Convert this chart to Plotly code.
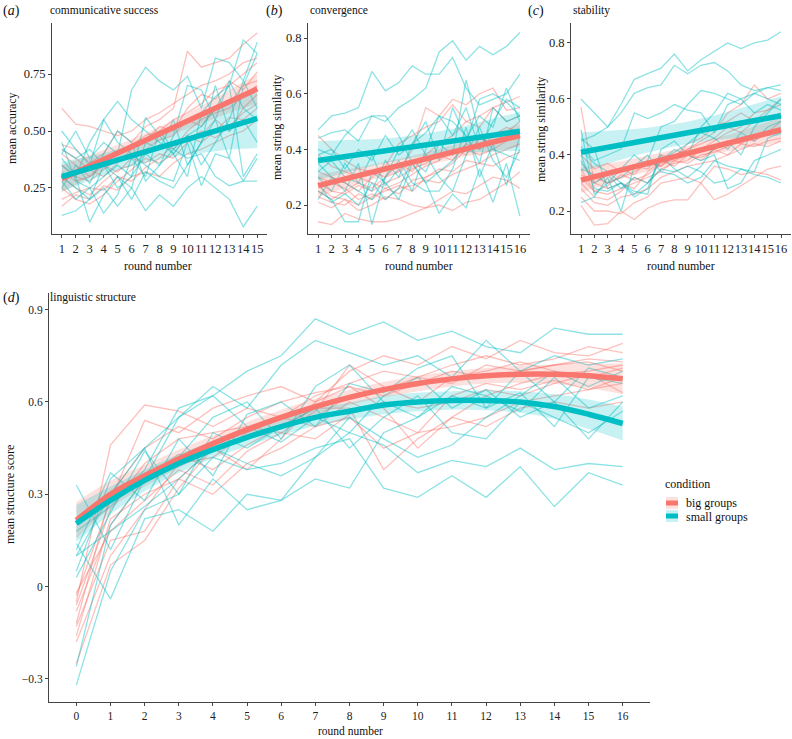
import plotly.graph_objects as go

W, H = 792, 739
FONT = "Liberation Serif, 'Times New Roman', Times, serif"
RED = "248,118,109"
TEAL = "0,191,196"

# ---------------- data ----------------
ROUNDS_A = list(range(1, 16))
ROUNDS_BC = list(range(1, 17))
ROUNDS_D = list(range(0, 17))

# (a) communicative success: mean accuracy per group
A_BIG = [
    [0.60, 0.53, 0.52, 0.50, 0.48, 0.50, 0.55, 0.58, 0.62, 0.66, 0.70, 0.72, 0.75, 0.80, 0.82],
    [0.44, 0.42, 0.36, 0.40, 0.50, 0.45, 0.52, 0.55, 0.60, 0.85, 0.78, 0.80, 0.82, 0.88, 0.93],
    [0.40, 0.35, 0.30, 0.36, 0.41, 0.44, 0.48, 0.50, 0.55, 0.58, 0.62, 0.68, 0.70, 0.75, 0.80],
    [0.35, 0.30, 0.28, 0.33, 0.38, 0.40, 0.42, 0.46, 0.48, 0.55, 0.52, 0.60, 0.62, 0.70, 0.72],
    [0.30, 0.25, 0.22, 0.28, 0.33, 0.35, 0.40, 0.44, 0.42, 0.50, 0.55, 0.58, 0.60, 0.65, 0.70],
    [0.25, 0.20, 0.18, 0.22, 0.28, 0.33, 0.38, 0.36, 0.40, 0.48, 0.45, 0.50, 0.56, 0.55, 0.60],
    [0.20, 0.23, 0.25, 0.24, 0.30, 0.28, 0.34, 0.38, 0.44, 0.46, 0.50, 0.47, 0.52, 0.58, 0.62],
    [0.17, 0.22, 0.20, 0.26, 0.24, 0.30, 0.32, 0.30, 0.36, 0.40, 0.42, 0.45, 0.48, 0.50, 0.55],
    [0.42, 0.38, 0.33, 0.30, 0.36, 0.42, 0.46, 0.52, 0.50, 0.60, 0.66, 0.64, 0.72, 0.68, 0.76],
    [0.32, 0.28, 0.30, 0.35, 0.32, 0.38, 0.36, 0.40, 0.38, 0.45, 0.48, 0.55, 0.50, 0.60, 0.66],
]
A_SMALL = [
    [0.50, 0.42, 0.35, 0.55, 0.63, 0.55, 0.50, 0.45, 0.40, 0.48, 0.52, 0.60, 0.70, 0.90, 0.84],
    [0.40, 0.50, 0.38, 0.45, 0.40, 0.68, 0.78, 0.72, 0.68, 0.74, 0.60, 0.82, 0.80, 0.72, 0.89],
    [0.45, 0.28, 0.25, 0.30, 0.35, 0.30, 0.56, 0.48, 0.40, 0.30, 0.58, 0.65, 0.70, 0.30, 0.40],
    [0.35, 0.30, 0.45, 0.55, 0.45, 0.40, 0.35, 0.30, 0.28, 0.45, 0.26, 0.40, 0.38, 0.28, 0.28],
    [0.30, 0.25, 0.20, 0.35, 0.30, 0.25, 0.45, 0.42, 0.55, 0.35, 0.45, 0.55, 0.38, 0.70, 0.84],
    [0.13, 0.15, 0.20, 0.25, 0.17, 0.25, 0.15, 0.22, 0.17, 0.25, 0.30, 0.25, 0.20, 0.08, 0.17],
    [0.38, 0.30, 0.10, 0.22, 0.30, 0.20, 0.32, 0.28, 0.25, 0.35, 0.45, 0.70, 0.50, 0.55, 0.45],
    [0.28, 0.20, 0.25, 0.14, 0.22, 0.38, 0.30, 0.50, 0.42, 0.48, 0.35, 0.45, 0.55, 0.72, 0.60],
    [0.25, 0.35, 0.27, 0.40, 0.50, 0.45, 0.28, 0.35, 0.42, 0.38, 0.40, 0.30, 0.26, 0.28, 0.38],
    [0.42, 0.38, 0.42, 0.35, 0.25, 0.30, 0.40, 0.35, 0.48, 0.70, 0.68, 0.55, 0.72, 0.60, 0.55],
]
A_BIG_FIT = [0.290, 0.318, 0.346, 0.375, 0.403, 0.431, 0.459, 0.488, 0.516, 0.544, 0.572, 0.601, 0.629, 0.657, 0.685]
A_BIG_CI = [0.060, 0.054, 0.048, 0.042, 0.037, 0.033, 0.031, 0.030, 0.031, 0.034, 0.038, 0.044, 0.050, 0.057, 0.065]
A_SMALL_FIT = [0.300, 0.318, 0.336, 0.355, 0.373, 0.391, 0.409, 0.428, 0.446, 0.464, 0.482, 0.501, 0.519, 0.537, 0.555]
A_SMALL_CI = [0.065, 0.058, 0.052, 0.048, 0.045, 0.045, 0.048, 0.053, 0.060, 0.068, 0.078, 0.090, 0.100, 0.115, 0.130]

# (b) convergence: mean string similarity
B_BIG = [
    [0.45, 0.40, 0.36, 0.33, 0.32, 0.30, 0.35, 0.32, 0.38, 0.42, 0.45, 0.50, 0.52, 0.55, 0.57, 0.59],
    [0.14, 0.13, 0.17, 0.15, 0.14, 0.14, 0.15, 0.17, 0.19, 0.20, 0.18, 0.21, 0.22, 0.25, 0.28, 0.32],
    [0.21, 0.19, 0.22, 0.18, 0.20, 0.23, 0.22, 0.20, 0.19, 0.22, 0.25, 0.24, 0.27, 0.30, 0.29, 0.26],
    [0.25, 0.22, 0.25, 0.28, 0.26, 0.30, 0.32, 0.40, 0.55, 0.52, 0.58, 0.56, 0.60, 0.62, 0.54, 0.55],
    [0.32, 0.30, 0.28, 0.25, 0.30, 0.34, 0.42, 0.45, 0.48, 0.50, 0.56, 0.50, 0.48, 0.55, 0.50, 0.52],
    [0.28, 0.25, 0.24, 0.27, 0.25, 0.28, 0.30, 0.33, 0.35, 0.38, 0.36, 0.42, 0.40, 0.45, 0.48, 0.46],
    [0.38, 0.34, 0.32, 0.30, 0.28, 0.26, 0.28, 0.31, 0.34, 0.36, 0.40, 0.38, 0.44, 0.42, 0.46, 0.50],
    [0.23, 0.21, 0.20, 0.24, 0.22, 0.26, 0.24, 0.29, 0.30, 0.33, 0.32, 0.36, 0.35, 0.38, 0.40, 0.42],
    [0.30, 0.28, 0.26, 0.22, 0.24, 0.22, 0.26, 0.27, 0.29, 0.28, 0.31, 0.33, 0.35, 0.34, 0.37, 0.39],
    [0.27, 0.23, 0.22, 0.20, 0.23, 0.25, 0.27, 0.25, 0.30, 0.32, 0.35, 0.40, 0.38, 0.40, 0.43, 0.45],
]
B_SMALL = [
    [0.44, 0.46, 0.47, 0.43, 0.52, 0.50, 0.55, 0.58, 0.62, 0.75, 0.79, 0.72, 0.77, 0.74, 0.77, 0.82],
    [0.47, 0.52, 0.53, 0.55, 0.68, 0.61, 0.64, 0.70, 0.67, 0.67, 0.73, 0.62, 0.56, 0.58, 0.60, 0.67],
    [0.40, 0.38, 0.45, 0.50, 0.52, 0.52, 0.45, 0.35, 0.28, 0.32, 0.36, 0.42, 0.58, 0.60, 0.57, 0.52],
    [0.35, 0.30, 0.28, 0.25, 0.22, 0.30, 0.40, 0.47, 0.38, 0.30, 0.25, 0.38, 0.48, 0.36, 0.30, 0.40],
    [0.30, 0.25, 0.35, 0.28, 0.38, 0.27, 0.33, 0.25, 0.40, 0.52, 0.45, 0.55, 0.40, 0.50, 0.58, 0.55],
    [0.25, 0.22, 0.14, 0.14, 0.32, 0.28, 0.22, 0.35, 0.28, 0.17, 0.24, 0.19, 0.33, 0.21, 0.35, 0.16],
    [0.22, 0.30, 0.25, 0.35, 0.13, 0.30, 0.36, 0.28, 0.25, 0.25, 0.33, 0.48, 0.30, 0.42, 0.27, 0.45],
    [0.32, 0.36, 0.30, 0.28, 0.25, 0.36, 0.30, 0.42, 0.50, 0.36, 0.55, 0.44, 0.52, 0.48, 0.62, 0.50],
    [0.28, 0.21, 0.24, 0.20, 0.28, 0.22, 0.26, 0.36, 0.32, 0.42, 0.38, 0.65, 0.45, 0.40, 0.38, 0.36],
    [0.38, 0.40, 0.33, 0.40, 0.36, 0.45, 0.38, 0.42, 0.46, 0.52, 0.50, 0.45, 0.35, 0.55, 0.50, 0.52],
]
B_BIG_FIT = [0.270, 0.282, 0.294, 0.306, 0.318, 0.330, 0.342, 0.354, 0.366, 0.378, 0.390, 0.402, 0.414, 0.426, 0.438, 0.450]
B_BIG_CI = [0.040, 0.036, 0.033, 0.030, 0.027, 0.025, 0.024, 0.023, 0.023, 0.024, 0.025, 0.027, 0.030, 0.033, 0.036, 0.040]
B_SMALL_FIT = [0.360, 0.367, 0.374, 0.381, 0.388, 0.395, 0.402, 0.409, 0.416, 0.423, 0.430, 0.437, 0.444, 0.451, 0.458, 0.465]
B_SMALL_CI = [0.070, 0.064, 0.058, 0.053, 0.048, 0.044, 0.041, 0.040, 0.040, 0.041, 0.044, 0.048, 0.053, 0.058, 0.064, 0.070]

# (c) stability: mean string similarity
C_BIG = [
    [0.57, 0.30, 0.33, 0.35, 0.33, 0.38, 0.36, 0.40, 0.42, 0.45, 0.48, 0.55, 0.58, 0.65, 0.60, 0.62],
    [0.22, 0.15, 0.155, 0.20, 0.17, 0.21, 0.23, 0.24, 0.24, 0.30, 0.24, 0.26, 0.29, 0.32, 0.35, 0.36],
    [0.25, 0.20, 0.20, 0.19, 0.23, 0.25, 0.30, 0.31, 0.32, 0.30, 0.36, 0.35, 0.33, 0.34, 0.33, 0.31],
    [0.35, 0.27, 0.26, 0.28, 0.30, 0.32, 0.34, 0.38, 0.40, 0.39, 0.42, 0.45, 0.44, 0.47, 0.48, 0.49],
    [0.30, 0.25, 0.24, 0.27, 0.32, 0.30, 0.35, 0.37, 0.38, 0.42, 0.45, 0.48, 0.50, 0.55, 0.56, 0.58],
    [0.33, 0.30, 0.28, 0.30, 0.28, 0.34, 0.38, 0.36, 0.40, 0.38, 0.42, 0.40, 0.44, 0.43, 0.45, 0.46],
    [0.40, 0.35, 0.37, 0.34, 0.36, 0.35, 0.40, 0.39, 0.44, 0.46, 0.50, 0.52, 0.55, 0.52, 0.56, 0.60],
    [0.28, 0.23, 0.22, 0.25, 0.26, 0.28, 0.32, 0.34, 0.36, 0.37, 0.38, 0.40, 0.42, 0.44, 0.43, 0.45],
    [0.37, 0.32, 0.30, 0.32, 0.34, 0.37, 0.36, 0.40, 0.42, 0.44, 0.46, 0.50, 0.48, 0.52, 0.53, 0.55],
    [0.32, 0.27, 0.29, 0.33, 0.31, 0.33, 0.37, 0.38, 0.37, 0.40, 0.41, 0.43, 0.46, 0.45, 0.48, 0.52],
]
C_SMALL = [
    [0.60, 0.55, 0.50, 0.58, 0.67, 0.69, 0.71, 0.76, 0.70, 0.74, 0.77, 0.80, 0.78, 0.80, 0.81, 0.84],
    [0.45, 0.47, 0.50, 0.55, 0.62, 0.64, 0.65, 0.72, 0.69, 0.72, 0.73, 0.70, 0.65, 0.63, 0.64, 0.65],
    [0.49, 0.26, 0.30, 0.32, 0.36, 0.38, 0.50, 0.52, 0.58, 0.63, 0.62, 0.60, 0.58, 0.62, 0.64, 0.63],
    [0.43, 0.38, 0.40, 0.42, 0.55, 0.53, 0.55, 0.58, 0.56, 0.55, 0.48, 0.58, 0.60, 0.62, 0.60, 0.58],
    [0.46, 0.42, 0.28, 0.30, 0.27, 0.26, 0.42, 0.45, 0.40, 0.50, 0.55, 0.62, 0.60, 0.55, 0.58, 0.56],
    [0.38, 0.30, 0.33, 0.28, 0.32, 0.30, 0.35, 0.34, 0.36, 0.34, 0.30, 0.31, 0.35, 0.33, 0.32, 0.30],
    [0.23, 0.25, 0.32, 0.20, 0.36, 0.40, 0.34, 0.33, 0.30, 0.32, 0.38, 0.36, 0.35, 0.34, 0.46, 0.48],
    [0.40, 0.28, 0.27, 0.30, 0.26, 0.30, 0.38, 0.41, 0.44, 0.48, 0.46, 0.42, 0.48, 0.45, 0.50, 0.52],
    [0.35, 0.33, 0.30, 0.35, 0.40, 0.36, 0.38, 0.42, 0.40, 0.38, 0.40, 0.28, 0.30, 0.38, 0.40, 0.42],
    [0.42, 0.37, 0.34, 0.30, 0.25, 0.28, 0.40, 0.35, 0.32, 0.36, 0.43, 0.45, 0.40, 0.50, 0.55, 0.60],
]
C_BIG_FIT = [0.310, 0.322, 0.334, 0.346, 0.358, 0.370, 0.382, 0.394, 0.406, 0.418, 0.430, 0.442, 0.454, 0.466, 0.478, 0.490]
C_BIG_CI = [0.045, 0.040, 0.036, 0.032, 0.029, 0.027, 0.026, 0.025, 0.025, 0.026, 0.027, 0.029, 0.032, 0.036, 0.040, 0.045]
C_SMALL_FIT = [0.410, 0.419, 0.427, 0.436, 0.445, 0.453, 0.462, 0.471, 0.479, 0.488, 0.497, 0.505, 0.514, 0.523, 0.531, 0.540]
C_SMALL_CI = [0.070, 0.064, 0.058, 0.053, 0.048, 0.044, 0.041, 0.040, 0.040, 0.041, 0.044, 0.048, 0.053, 0.058, 0.064, 0.070]

# (d) linguistic structure: mean structure score
D_BIG = [
    [-0.05, 0.46, 0.59, 0.57, 0.52, 0.58, 0.55, 0.62, 0.66, 0.70, 0.68, 0.72, 0.75, 0.72, 0.74, 0.78, 0.76],
    [-0.16, 0.22, 0.30, 0.35, 0.45, 0.48, 0.52, 0.55, 0.62, 0.64, 0.68, 0.66, 0.72, 0.70, 0.72, 0.74, 0.73],
    [-0.06, 0.25, 0.40, 0.48, 0.50, 0.52, 0.50, 0.57, 0.72, 0.65, 0.60, 0.68, 0.70, 0.73, 0.70, 0.68, 0.71],
    [-0.25, 0.07, 0.15, 0.32, 0.45, 0.38, 0.48, 0.60, 0.65, 0.58, 0.45, 0.55, 0.62, 0.66, 0.69, 0.70, 0.72],
    [-0.13, 0.15, 0.18, 0.35, 0.30, 0.40, 0.45, 0.52, 0.55, 0.45, 0.50, 0.52, 0.55, 0.60, 0.62, 0.64, 0.66],
    [-0.03, 0.28, 0.54, 0.50, 0.58, 0.62, 0.65, 0.60, 0.70, 0.75, 0.72, 0.78, 0.74, 0.80, 0.76, 0.75, 0.79],
    [-0.18, 0.10, 0.25, 0.40, 0.42, 0.50, 0.55, 0.52, 0.60, 0.55, 0.50, 0.62, 0.66, 0.64, 0.67, 0.64, 0.68],
    [-0.08, 0.20, 0.35, 0.43, 0.38, 0.46, 0.52, 0.58, 0.58, 0.38, 0.48, 0.55, 0.52, 0.58, 0.60, 0.58, 0.60],
    [-0.12, 0.30, 0.45, 0.52, 0.48, 0.55, 0.60, 0.63, 0.65, 0.62, 0.66, 0.70, 0.68, 0.70, 0.72, 0.73, 0.70],
    [-0.02, 0.18, 0.28, 0.38, 0.33, 0.44, 0.50, 0.48, 0.56, 0.60, 0.58, 0.60, 0.64, 0.62, 0.66, 0.69, 0.63],
]
D_SMALL = [
    [0.10, 0.30, 0.45, 0.55, 0.62, 0.70, 0.75, 0.87, 0.82, 0.86, 0.80, 0.83, 0.78, 0.76, 0.84, 0.82, 0.82],
    [0.33, 0.12, 0.35, 0.55, 0.65, 0.58, 0.72, 0.80, 0.76, 0.72, 0.75, 0.68, 0.80, 0.70, 0.75, 0.72, 0.74],
    [-0.32, 0.05, 0.25, 0.30, 0.42, 0.38, 0.40, 0.45, 0.48, 0.32, 0.29, 0.36, 0.29, 0.39, 0.26, 0.37, 0.33],
    [0.05, 0.35, 0.45, 0.20, 0.35, 0.25, 0.28, 0.42, 0.50, 0.46, 0.37, 0.41, 0.39, 0.45, 0.38, 0.40, 0.39],
    [0.14, -0.04, 0.22, 0.25, 0.18, 0.30, 0.28, 0.35, 0.32, 0.50, 0.55, 0.62, 0.58, 0.70, 0.60, 0.48, 0.60],
    [0.12, 0.37, 0.28, 0.48, 0.36, 0.56, 0.60, 0.52, 0.66, 0.63, 0.71, 0.75, 0.58, 0.63, 0.52, 0.68, 0.66],
    [-0.26, 0.20, 0.35, 0.42, 0.55, 0.60, 0.48, 0.65, 0.72, 0.60, 0.55, 0.65, 0.62, 0.57, 0.68, 0.58, 0.62],
    [0.03, 0.24, 0.44, 0.30, 0.50, 0.45, 0.52, 0.58, 0.45, 0.55, 0.62, 0.50, 0.48, 0.60, 0.55, 0.50, 0.57],
    [0.10, 0.18, 0.26, 0.35, 0.45, 0.40, 0.36, 0.42, 0.55, 0.48, 0.42, 0.46, 0.55, 0.62, 0.70, 0.65, 0.70],
    [0.18, 0.26, 0.38, 0.58, 0.62, 0.52, 0.47, 0.55, 0.50, 0.62, 0.68, 0.58, 0.64, 0.55, 0.60, 0.71, 0.68],
]
D_BIG_FIT = [0.215, 0.300, 0.360, 0.415, 0.465, 0.510, 0.550, 0.585, 0.615, 0.640, 0.660, 0.675, 0.685, 0.690, 0.690, 0.685, 0.675]
D_BIG_CI = [0.060, 0.045, 0.035, 0.030, 0.025, 0.025, 0.025, 0.025, 0.025, 0.025, 0.025, 0.025, 0.025, 0.028, 0.032, 0.040, 0.050]
D_SMALL_FIT = [0.205, 0.280, 0.345, 0.400, 0.445, 0.485, 0.520, 0.550, 0.570, 0.590, 0.600, 0.605, 0.605, 0.600, 0.585, 0.560, 0.530]
D_SMALL_CI = [0.060, 0.045, 0.035, 0.030, 0.028, 0.028, 0.028, 0.028, 0.028, 0.030, 0.030, 0.030, 0.032, 0.035, 0.040, 0.048, 0.055]

CONDITIONS = ["big groups", "small groups"]

# ---------------- figure ----------------
fig = go.Figure()


def px(x):
    return x / W


def py(y):
    return 1 - y / H


def add_panel(ax, rounds, big, small, big_fit, big_ci, small_fit, small_ci, smooth=False):
    xa, ya = ("x" + ax, "y" + ax)
    shape = "spline" if smooth else "linear"
    for rgb, groups in ((RED, big), (TEAL, small)):
        for g in groups:
            fig.add_trace(go.Scatter(x=rounds, y=g, mode="lines", xaxis=xa, yaxis=ya,
                                     line=dict(color=f"rgba({rgb},0.45)", width=1.3),
                                     hoverinfo="skip", showlegend=False))
    for rgb, fit, ci in ((RED, big_fit, big_ci), (TEAL, small_fit, small_ci)):
        lo = [f - c for f, c in zip(fit, ci)]
        hi = [f + c for f, c in zip(fit, ci)]
        fig.add_trace(go.Scatter(x=rounds, y=lo, mode="lines", xaxis=xa, yaxis=ya,
                                 line=dict(width=0, shape=shape), hoverinfo="skip", showlegend=False))
        fig.add_trace(go.Scatter(x=rounds, y=hi, mode="lines", xaxis=xa, yaxis=ya, fill="tonexty",
                                 fillcolor=f"rgba({rgb},0.22)", line=dict(width=0, shape=shape),
                                 hoverinfo="skip", showlegend=False))
    for rgb, fit in ((RED, big_fit), (TEAL, small_fit)):
        fig.add_trace(go.Scatter(x=rounds, y=fit, mode="lines", xaxis=xa, yaxis=ya,
                                 line=dict(color=f"rgb({rgb})", width=5.5, shape=shape),
                                 hoverinfo="skip", showlegend=False))


add_panel("", ROUNDS_A, A_BIG, A_SMALL, A_BIG_FIT, A_BIG_CI, A_SMALL_FIT, A_SMALL_CI)
add_panel("2", ROUNDS_BC, B_BIG, B_SMALL, B_BIG_FIT, B_BIG_CI, B_SMALL_FIT, B_SMALL_CI)
add_panel("3", ROUNDS_BC, C_BIG, C_SMALL, C_BIG_FIT, C_BIG_CI, C_SMALL_FIT, C_SMALL_CI)
add_panel("4", ROUNDS_D, D_BIG, D_SMALL, D_BIG_FIT, D_BIG_CI, D_SMALL_FIT, D_SMALL_CI, smooth=True)


def axis_style(size):
    return dict(showline=True, linecolor="#444", linewidth=1, ticks="outside", ticklen=3,
                tickcolor="#444", showgrid=False, zeroline=False, mirror=False, tickangle=0,
                tickfont=dict(family=FONT, size=size, color="#222"))


small = axis_style(12.5)
big = axis_style(11.5)
top_y = [py(234), py(23)]
fig.update_layout(
    width=W, height=H, margin=dict(l=0, r=0, t=0, b=0),
    paper_bgcolor="white", plot_bgcolor="white", showlegend=False,
    font=dict(family=FONT),
    xaxis=dict(domain=[px(52), px(267)], range=[0.3, 15.7], anchor="y",
               tickmode="array", tickvals=ROUNDS_A, **small),
    yaxis=dict(domain=top_y, range=[0.048, 0.974], anchor="x",
               tickmode="array", tickvals=[0.25, 0.50, 0.75], ticktext=["0.25", "0.50", "0.75"], **small),
    xaxis2=dict(domain=[px(308), px(530)], range=[0.25, 16.75], anchor="y2",
                tickmode="array", tickvals=ROUNDS_BC, **small),
    yaxis2=dict(domain=top_y, range=[0.096, 0.854], anchor="x2",
                tickmode="array", tickvals=[0.2, 0.4, 0.6, 0.8], **small),
    xaxis3=dict(domain=[px(571), px(791)], range=[0.25, 16.75], anchor="y3",
                tickmode="array", tickvals=ROUNDS_BC, **small),
    yaxis3=dict(domain=top_y, range=[0.118, 0.871], anchor="x3",
                tickmode="array", tickvals=[0.2, 0.4, 0.6, 0.8], **small),
    xaxis4=dict(domain=[px(49), px(650)], range=[-0.8, 16.8], anchor="y4",
                tickmode="array", tickvals=ROUNDS_D, **big),
    yaxis4=dict(domain=[py(702), py(293)], range=[-0.375, 0.954], anchor="x4",
                tickmode="array", tickvals=[-0.3, 0, 0.3, 0.6, 0.9],
                ticktext=["\u22120.3", "0", "0.3", "0.6", "0.9"], **big),
)

ann = []


def text(x, y, s, size=11, xanchor="left", angle=0):
    ann.append(dict(x=px(x), y=py(y), xref="paper", yref="paper", text=s, showarrow=False,
                    xanchor=xanchor, yanchor="middle", textangle=angle, borderpad=0,
                    font=dict(family=FONT, size=size, color="#111")))


# panel labels and titles
text(2, 11, "(<i>a</i>)", size=14)
text(49, 10, "communicative success", size=11.5)
text(265, 11, "(<i>b</i>)", size=14)
text(309, 10, "convergence", size=11.5)
text(527, 11, "(<i>c</i>)", size=14)
text(572, 10, "stability", size=11.5)
text(2, 298, "(<i>d</i>)", size=14)
text(49, 297, "linguistic structure", size=11.5)

# axis titles
text(158, 266, "round number", size=12, xanchor="center")
text(419, 266, "round number", size=12, xanchor="center")
text(681, 266, "round number", size=12, xanchor="center")
text(350, 731, "round number", size=11.5, xanchor="center")
text(12, 128, "mean accuracy", size=12, xanchor="center", angle=-90)
text(277, 128, "mean string similarity", size=12, xanchor="center", angle=-90)
text(541, 130, "mean string similarity", size=12, xanchor="center", angle=-90)
text(10, 495, "mean structure score", size=12, xanchor="center", angle=-90)

# legend
text(664, 484, "condition", size=12)
shapes = []
for i, (name, rgb) in enumerate(zip(CONDITIONS, (RED, TEAL))):
    yc = 503 + i * 13
    shapes.append(dict(type="rect", xref="paper", yref="paper", x0=px(666), x1=px(678),
                       y0=py(yc + 6), y1=py(yc - 6), fillcolor=f"rgba({rgb},0.22)", line=dict(width=0)))
    shapes.append(dict(type="rect", xref="paper", yref="paper", x0=px(666), x1=px(678),
                       y0=py(yc + 2.5), y1=py(yc - 2.5), fillcolor=f"rgb({rgb})", line=dict(width=0)))
    text(685, yc + 0.5, name, size=12)

fig.update_layout(annotations=ann, shapes=shapes)
fig.write_html("out.html", config={"displayModeBar": False},
               post_script="document.body.style.margin='0px';")
